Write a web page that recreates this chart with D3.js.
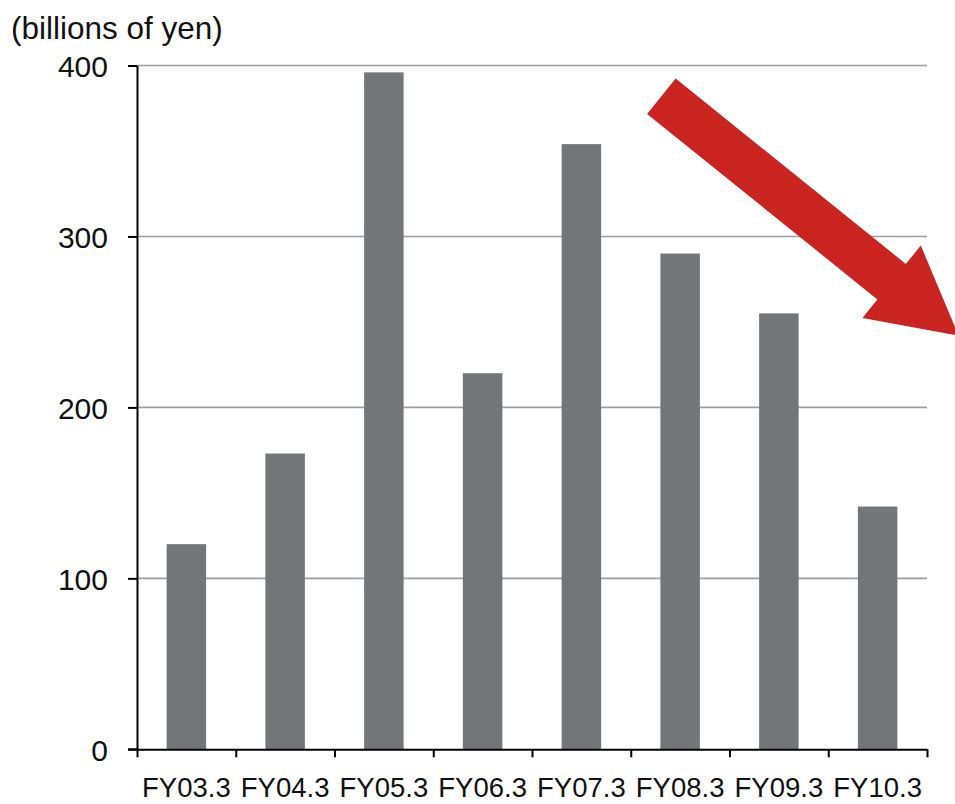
<!DOCTYPE html>
<html><head><meta charset="utf-8">
<script src="https://cdn.jsdelivr.net/npm/d3@7"></script>
<style>html,body{margin:0;padding:0;background:#fff;}svg{display:block;font-family:"Liberation Sans",Arial,sans-serif;}</style>
</head><body>
<svg id="c" width="955" height="804"></svg>
<script>
const categories = ["FY03.3","FY04.3","FY05.3","FY06.3","FY07.3","FY08.3","FY09.3","FY10.3"];
const values = [120, 173, 396, 220, 354, 290, 255, 142];
const yTicks = [0, 100, 200, 300, 400];
const unitLabel = "(billions of yen)";
// trend arrow annotation in data space: x in category slots, y in billions of yen
const arrowTail = [5.31, 382];
const arrowTip = [8.32, 242];

const svg = d3.select("#c");
const mLeft = 137, mRight = 927, mTop = 65.5, mBottom = 749.3;

const x = d3.scaleBand().domain(categories).range([mLeft, mRight]).padding(0);
const xi = d3.scaleLinear().domain([0, categories.length]).range([mLeft, mRight]);
const y = d3.scaleLinear().domain([0, 400]).range([mBottom, mTop]);

// gridlines
svg.append("g").selectAll("line").data(yTicks.filter(d => d > 0)).join("line")
  .attr("x1", mLeft).attr("x2", mRight)
  .attr("y1", d => y(d)).attr("y2", d => y(d))
  .attr("stroke", "#9d9d9d").attr("stroke-width", 1.6);

// bars
const bw = x.bandwidth() * 0.4;
svg.append("g").selectAll("rect").data(values).join("rect")
  .attr("x", (d, i) => x(categories[i]) + (x.bandwidth() - bw) / 2)
  .attr("width", bw)
  .attr("y", d => y(d))
  .attr("height", d => y(0) - y(d))
  .attr("fill", "#737679");

// y axis
const ya = svg.append("g").attr("transform", `translate(${mLeft},0)`)
  .call(d3.axisLeft(y).tickValues(yTicks).tickSize(9).tickPadding(20).tickSizeOuter(0));
ya.select(".domain").attr("stroke", "#000").attr("stroke-width", 2);
ya.selectAll(".tick line").attr("stroke", "#000").attr("stroke-width", 2);
ya.selectAll("text").attr("font-size", 30).attr("fill", "#111").attr("dy", "0.36em")
  .attr("font-family", "'Liberation Sans',Arial,sans-serif");

// x axis
const xa = svg.append("g").attr("transform", `translate(0,${mBottom})`)
  .call(d3.axisBottom(xi).tickValues(d3.range(categories.length + 1)).tickSize(8).tickFormat("").tickSizeOuter(0));
xa.select(".domain").attr("stroke", "#000").attr("stroke-width", 2);
xa.selectAll(".tick line").attr("stroke", "#000").attr("stroke-width", 2);
svg.append("line").attr("x1", mLeft - 9).attr("x2", mLeft).attr("y1", mBottom).attr("y2", mBottom)
  .attr("stroke", "#000").attr("stroke-width", 2);

svg.append("g").selectAll("text").data(categories).join("text")
  .attr("x", d => x(d) + x.bandwidth() / 2)
  .attr("y", 797)
  .attr("text-anchor", "middle")
  .attr("font-size", 27.5)
  .attr("fill", "#111")
  .text(d => d);

// unit label
svg.append("text").attr("x", 11).attr("y", 39).attr("font-size", 31.5).attr("fill", "#111").text(unitLabel);

// arrow
const tx = xi(arrowTail[0]), ty = y(arrowTail[1]);
const px = xi(arrowTip[0]), py = y(arrowTip[1]);
const dx = px - tx, dy = py - ty, L = Math.hypot(dx, dy);
const ux = dx / L, uy = dy / L, nx = -uy, ny = ux;
const sw = 45.5 / 2, hw = 93 / 2, hl = 86;
const bx = px - ux * hl, by = py - uy * hl;
const pts = [
  [tx + nx * sw, ty + ny * sw],
  [bx + nx * sw, by + ny * sw],
  [bx + nx * hw, by + ny * hw],
  [px, py],
  [bx - nx * hw, by - ny * hw],
  [bx - nx * sw, by - ny * sw],
  [tx - nx * sw, ty - ny * sw]
];
svg.append("path").attr("d", d3.line()(pts) + "Z").attr("fill", "#c9241f");
</script>
</body></html>
